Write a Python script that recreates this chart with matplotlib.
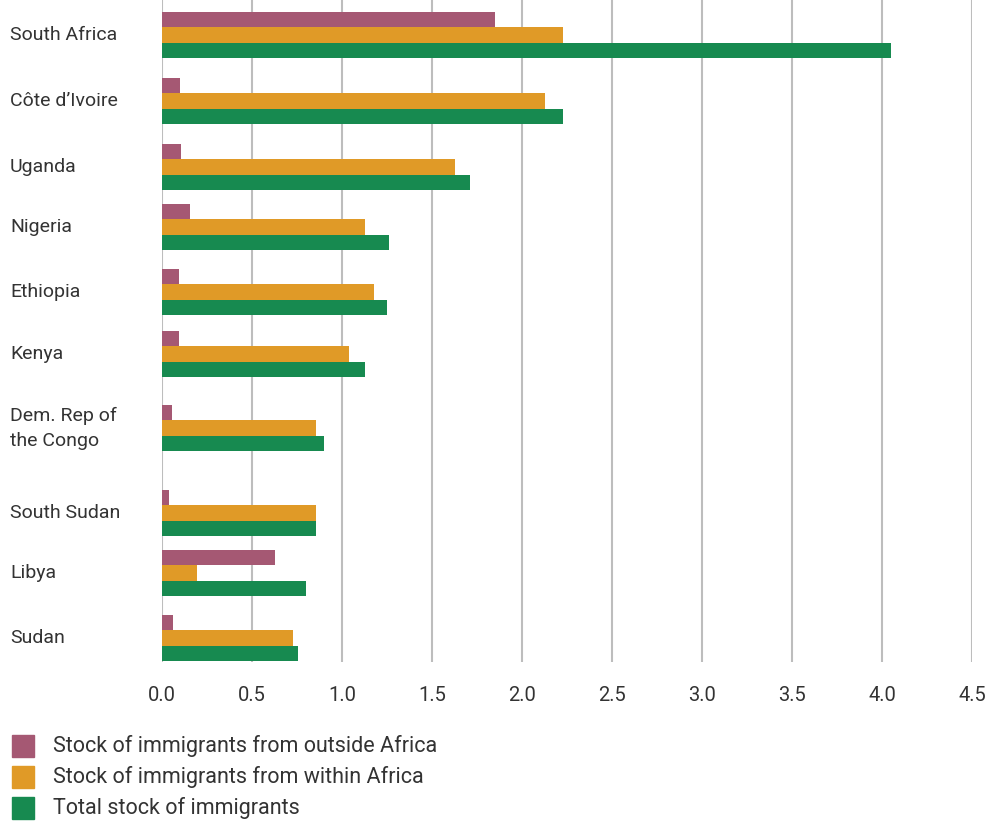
import matplotlib
matplotlib.use("Agg")
import matplotlib.pyplot as plt
from matplotlib.patches import Rectangle

plt.rcParams['font.family'] = ['Roboto', 'DejaVu Sans']

# data (millions)
countries = ['South Africa', 'Côte d\u2019Ivoire', 'Uganda', 'Nigeria', 'Ethiopia',
             'Kenya', 'Dem. Rep of\nthe Congo', 'South Sudan', 'Libya', 'Sudan']
outside_africa = [1.85, 0.10, 0.105, 0.155, 0.095, 0.095, 0.055, 0.04, 0.63, 0.06]
within_africa = [2.23, 2.13, 1.63, 1.13, 1.18, 1.04, 0.855, 0.855, 0.195, 0.73]
total_stock = [4.05, 2.23, 1.71, 1.26, 1.25, 1.13, 0.90, 0.855, 0.80, 0.755]
xticks = [0.0, 0.5, 1.0, 1.5, 2.0, 2.5, 3.0, 3.5, 4.0, 4.5]
legend_labels = ['Stock of immigrants from outside Africa',
                 'Stock of immigrants from within Africa',
                 'Total stock of immigrants']

# row layout (group centres, top to bottom)
row_pos = [35, 101, 167, 227, 292, 354, 428, 513, 573, 638]
bh = 15.5

c_out = '#A55873'
c_in = '#E09A27'
c_tot = '#178A50'
txt = '#333333'

W, H = 992, 823
fig = plt.figure(figsize=(W / 100, H / 100), dpi=100)
ax = fig.add_axes([162 / W, 1 - 662 / H, 810 / W, 662 / H])

y_out = [p - bh for p in row_pos]
y_tot = [p + bh for p in row_pos]
ax.barh(y_out, outside_africa, height=bh, color=c_out, zorder=3)
ax.barh(row_pos, within_africa, height=bh, color=c_in, zorder=3)
ax.barh(y_tot, total_stock, height=bh, color=c_tot, zorder=3)

ax.set_xlim(0, 4.5)
ax.set_ylim(662, 0)
ax.set_xticks(xticks)
ax.set_xticklabels(['%.1f' % t for t in xticks], fontsize=14.5, color=txt)
ax.tick_params(axis='x', length=0, pad=17)
ax.set_yticks([])
for s in ax.spines.values():
    s.set_visible(False)
ax.grid(axis='x', color='#bdbdbd', linewidth=1.5, zorder=0)

for name, p in zip(countries, row_pos):
    fig.text(10 / W, 1 - p / H, name, fontsize=14, color=txt,
             ha='left', va='center', linespacing=1.5)

# legend
for lab, col, yc in zip(legend_labels, [c_out, c_in, c_tot], [746, 777, 808]):
    fig.add_artist(Rectangle((12 / W, 1 - (yc + 11) / H), 22 / W, 22 / H,
                             transform=fig.transFigure, color=col))
    fig.text(53 / W, 1 - yc / H, lab, fontsize=15.5, color=txt, ha='left', va='center')

fig.savefig('out.png', dpi=100)
plt.close()
